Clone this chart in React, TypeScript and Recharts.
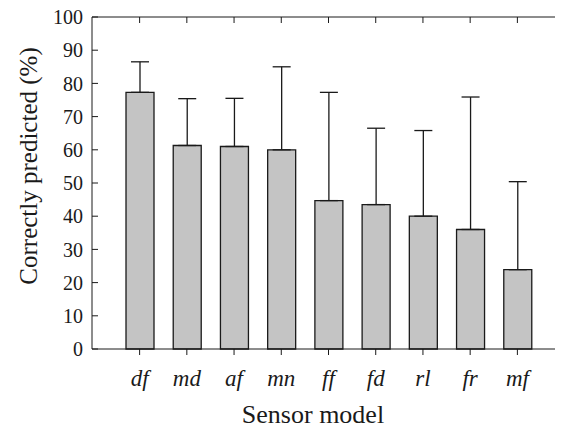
import React from 'react';
import { BarChart, Bar, XAxis, YAxis, ErrorBar, Label } from 'recharts';

const SENSORS = ['df', 'md', 'af', 'mn', 'ff', 'fd', 'rl', 'fr', 'mf'];
const PREDICTED = [77.3, 61.3, 61.0, 60.0, 44.7, 43.5, 40.0, 36.0, 23.9];
const UPPER = [86.5, 75.4, 75.5, 85.0, 77.3, 66.5, 65.8, 75.9, 50.4];
const Y_TICKS = [0, 10, 20, 30, 40, 50, 60, 70, 80, 90, 100];

const rows = SENSORS.map((name, i) => ({
  name,
  value: PREDICTED[i],
  err: [0, +(UPPER[i] - PREDICTED[i]).toFixed(1)],
}));

const ink = '#1a1a1a';
const serif = { fontFamily: 'Liberation Serif' };
const noLabel = () => <g />;

const App: React.FC = () => {
  return (
    <div style={{ margin: -8, width: 563, height: 433, overflow: 'hidden', fontFamily: 'Liberation Serif' }}>
      <BarChart
        width={570}
        height={433}
        data={rows}
        margin={{ top: 16, right: 4, left: 32, bottom: 24 }}
        barCategoryGap={0}
        style={serif}
      >
        <XAxis
          dataKey="name"
          xAxisId="bottom"
          height={60}
          padding={{ left: 24, right: 24 }}
          stroke={ink}
          tickLine={{ stroke: ink }}
          tickSize={6}
          tickMargin={15}
          tick={{ fontStyle: 'italic', fontSize: 23, fill: ink, fontFamily: 'Liberation Serif', style: serif }}
        >
          <Label
            content={() => (
              <text x={313} y={423} textAnchor="middle" fontSize={26} fill={ink} fontFamily="Liberation Serif" style={serif}>
                Sensor model
              </text>
            )}
          />
        </XAxis>
        <XAxis
          dataKey="name"
          xAxisId="top"
          orientation="top"
          height={1}
          padding={{ left: 24, right: 24 }}
          stroke={ink}
          tickLine={{ stroke: ink }}
          tickSize={-6}
          tick={noLabel}
        />
        <YAxis
          yAxisId="left"
          width={60}
          domain={[0, 100]}
          ticks={Y_TICKS}
          interval={0}
          stroke={ink}
          tickLine={{ stroke: ink }}
          tickSize={-6}
          tickMargin={15}
          tick={{ fontSize: 20, fill: ink, fontFamily: 'Liberation Serif', style: serif }}
        >
          <Label
            content={() => (
              <text
                x={28}
                y={166}
                transform="rotate(-90 28 166)"
                textAnchor="middle"
                dominantBaseline="central"
                fontSize={25}
                fill={ink}
                fontFamily="Liberation Serif"
                style={serif}
              >
                Correctly predicted (%)
              </text>
            )}
          />
        </YAxis>
        <YAxis
          yAxisId="right"
          orientation="right"
          width={1}
          domain={[0, 100]}
          ticks={Y_TICKS}
          interval={0}
          stroke={ink}
          tickLine={{ stroke: ink }}
          tickSize={-6}
          tick={noLabel}
        />
        <Bar
          dataKey="value"
          xAxisId="bottom"
          yAxisId="left"
          barSize={28}
          fill="#c4c4c4"
          stroke={ink}
          strokeWidth={1.3}
          isAnimationActive={false}
        >
          <ErrorBar dataKey="err" direction="y" width={9} stroke={ink} strokeWidth={1.3} isAnimationActive={false} />
        </Bar>
      </BarChart>
    </div>
  );
};

export default App;
